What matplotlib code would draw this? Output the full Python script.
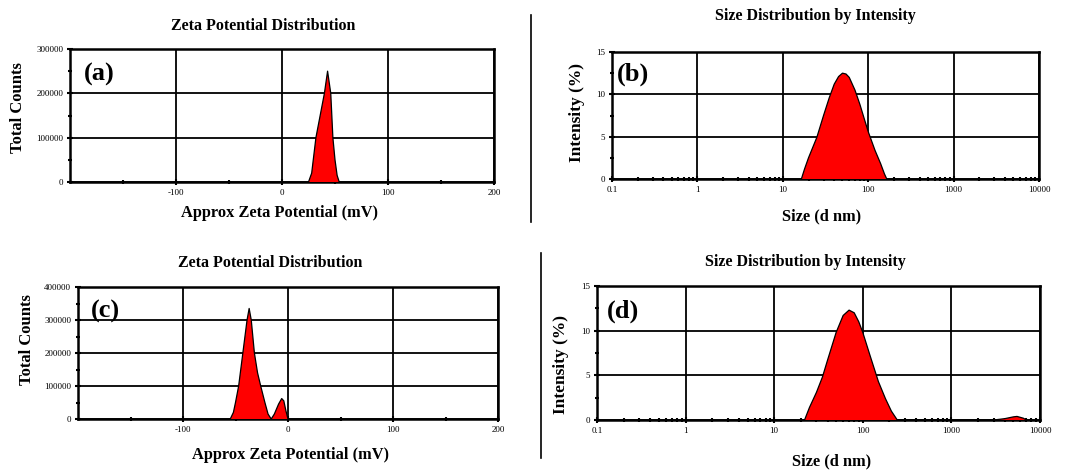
import matplotlib
matplotlib.use("Agg")
import matplotlib.pyplot as plt
from matplotlib.ticker import MultipleLocator, FixedLocator, LogLocator, NullFormatter
from matplotlib.lines import Line2D

plt.rcParams['font.family'] = ['Liberation Serif', 'DejaVu Serif']

# ---- data ----
# (a) zeta potential, sample 1
zeta_a_x = [25, 28, 32, 36, 40, 43, 46, 48, 50, 52, 54]
zeta_a_y = [0, 20000, 100000, 150000, 200000, 250000, 200000, 100000, 50000, 15000, 0]

# (b) size distribution, sample 1
size_b_x = [16.5, 18, 20, 25, 30, 35, 40, 45, 50, 55, 60, 70, 80, 90, 100, 120, 140, 155, 165]
size_b_y = [0, 1.2, 2.5, 4.9, 7.5, 9.6, 11.2, 12.1, 12.5, 12.4, 12.0, 10.5, 8.8, 7.1, 5.6, 3.4, 1.8, 0.6, 0]

# (c) zeta potential, sample 2
zeta_c_x = [-55, -52, -50, -47, -43, -39, -37, -35, -32, -29, -26, -22, -19, -16,
            -13, -9, -6, -4, -2, 0]
zeta_c_y = [0, 20000, 50000, 100000, 200000, 300000, 335000, 300000, 200000, 140000,
            100000, 50000, 15000, 0, 15000, 45000, 62000, 55000, 25000, 0]

# (d) size distribution, sample 2
size_d_x = [22, 25, 30, 35, 40, 50, 60, 70, 80, 90, 100, 120, 150, 180, 210, 245,
            3000, 4000, 5000, 5500, 6500, 7000]
size_d_y = [0, 1.4, 3.1, 4.8, 6.7, 9.8, 11.7, 12.3, 12.0, 11.0, 9.8, 7.3, 4.3, 2.4, 1.0, 0,
            0, 0.15, 0.35, 0.4, 0.2, 0]

panel_tags = ["(a)", "(b)", "(c)", "(d)"]
zeta_title = "Zeta Potential Distribution"
size_title = "Size Distribution by Intensity"
zeta_xlabel = "Approx Zeta Potential (mV)"
size_xlabel = "Size (d nm)"
zeta_ylabel = "Total Counts"
size_ylabel = "Intensity (%)"

W, H = 1073, 470
fig = plt.figure(figsize=(W / 100, H / 100), dpi=100)


def ax_px(l, r, t, b):
    return fig.add_axes([l / W, 1 - b / H, (r - l) / W, (b - t) / H])


def style(ax):
    for s in ax.spines.values():
        s.set_linewidth(1.8)
        s.set_color("black")
    ax.grid(True, which="major", color="black", linewidth=1.3)
    ax.set_axisbelow(True)
    ax.tick_params(which="major", direction="inout", length=4, width=1.5,
                   labelsize=6.5, pad=3)
    ax.tick_params(which="minor", direction="inout", length=3, width=1.5)


def add_tag(ax, tag, dx_px, top_px):
    bb = ax.get_position()
    axw, axh = bb.width * W, bb.height * H
    ax.text(dx_px / axw, 1 - top_px / axh, tag, transform=ax.transAxes, fontsize=19,
            fontweight="bold", va="top", ha="left", zorder=6)


def zeta_panel(ax, x, y, ymax):
    ax.fill_between(x, y, 0, facecolor="#ff0000", edgecolor="none", zorder=3)
    ax.plot(x, y, color="black", linewidth=0.9, zorder=4)
    ax.xaxis.set_major_locator(FixedLocator([-100, 0, 100, 200]))
    ax.xaxis.set_minor_locator(FixedLocator([-150, -50, 50, 150]))
    ax.set_xticklabels(["-100", "0", "100", "200"])
    yt = list(range(0, ymax + 1, 100000))
    ax.yaxis.set_major_locator(FixedLocator(yt))
    ax.yaxis.set_minor_locator(MultipleLocator(50000))
    ax.set_yticklabels([str(v) for v in yt])
    ax.set_xlim(-200, 200)
    ax.set_ylim(0, ymax)
    style(ax)


def size_panel(ax, x, y):
    ax.fill_between(x, y, 0, facecolor="#ff0000", edgecolor="none", zorder=3)
    ax.plot(x, y, color="black", linewidth=0.9, zorder=4)
    ax.set_xscale("log")
    ax.set_xlim(0.1, 10000)
    ax.set_ylim(0, 15)
    ax.xaxis.set_major_locator(FixedLocator([0.1, 1, 10, 100, 1000, 10000]))
    ax.xaxis.set_minor_locator(LogLocator(base=10, subs=range(2, 10)))
    ax.xaxis.set_minor_formatter(NullFormatter())
    ax.set_xticklabels(["0.1", "1", "10", "100", "1000", "10000"])
    ax.yaxis.set_major_locator(FixedLocator([0, 5, 10, 15]))
    ax.yaxis.set_minor_locator(MultipleLocator(2.5))
    ax.set_yticklabels(["0", "5", "10", "15"])
    style(ax)


ax_a = ax_px(70, 494, 49, 182)
zeta_panel(ax_a, zeta_a_x, zeta_a_y, 300000)
add_tag(ax_a, panel_tags[0], 14, 14)
ax_b = ax_px(612, 1039, 52, 179)
size_panel(ax_b, size_b_x, size_b_y)
add_tag(ax_b, panel_tags[1], 5, 11)
ax_c = ax_px(78, 498, 287, 419)
zeta_panel(ax_c, zeta_c_x, zeta_c_y, 400000)
add_tag(ax_c, panel_tags[2], 13, 13)
ax_d = ax_px(597, 1040, 286, 420)
size_panel(ax_d, size_d_x, size_d_y)
add_tag(ax_d, panel_tags[3], 10, 14)


def ftext(xp, yp, s, size, rot=0):
    fig.text(xp / W, 1 - yp / H, s, fontsize=size, fontweight="bold",
             ha="center", va="center", rotation=rot)


# titles
ftext(263, 26, zeta_title, 11.5)
ftext(815, 16, size_title, 11.5)
ftext(270, 263, zeta_title, 11.5)
ftext(805, 262, size_title, 11.5)
# x labels
ftext(280, 213, zeta_xlabel, 11.8)
ftext(822, 216, size_xlabel, 11.8)
ftext(290, 455, zeta_xlabel, 11.8)
ftext(832, 461, size_xlabel, 11.8)
# y labels
ftext(18, 108, zeta_ylabel, 12, 90)
ftext(577, 113, size_ylabel, 12.5, 90)
ftext(27, 340, zeta_ylabel, 12, 90)
ftext(561, 365, size_ylabel, 12.5, 90)

# separator lines
fig.add_artist(Line2D([531 / W, 531 / W], [1 - 15 / H, 1 - 222 / H], color="black", linewidth=1.2))
fig.add_artist(Line2D([541 / W, 541 / W], [1 - 253 / H, 1 - 458 / H], color="black", linewidth=1.2))

fig.savefig("out.png", dpi=100)
